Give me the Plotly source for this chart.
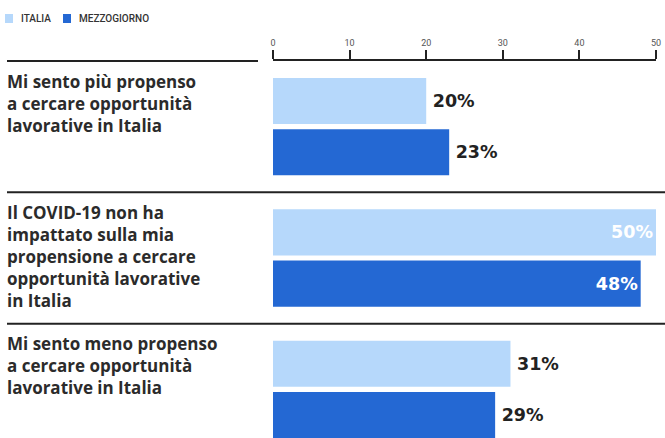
import plotly.graph_objects as go

categories = ["g1", "g2", "g3"]
labels = [
    "Mi sento più propenso<br>a cercare opportunità<br>lavorative in Italia",
    "Il COVID-19 non ha<br>impattato sulla mia<br>propensione a cercare<br>opportunità lavorative<br>in Italia",
    "Mi sento meno propenso<br>a cercare opportunità<br>lavorative in Italia",
]
italia = [20, 50, 31]
mezzogiorno = [23, 48, 29]
series_names = ["ITALIA", "MEZZOGIORNO"]
colors = ["#b6d8fb", "#2468d3"]
tick_vals = [0, 10, 20, 30, 40, 50]

LABEL_FONT = "Open Sans"
VALUE_FONT = "DejaVu Sans"

def positions(vals):
    return ["inside" if v >= 45 else "outside" for v in vals]

def tcolors(vals):
    return ["#ffffff" if v >= 45 else "#222222" for v in vals]

def texts(vals):
    return [f"{v}%" if v >= 45 else f"\u2009{v}%" for v in vals]

fig = go.Figure()
for name, vals, col in zip(series_names, [italia, mezzogiorno], colors):
    fig.add_trace(go.Bar(
        y=categories, x=vals, name=name, orientation="h",
        marker=dict(color=col, line=dict(width=0)),
        text=texts(vals),
        textposition=positions(vals),
        insidetextanchor="end",
        textfont=dict(family=VALUE_FONT, size=17.5, weight=700, color=tcolors(vals)),
        constraintext="none",
        cliponaxis=False,
        hoverinfo="skip",
        showlegend=False,
    ))

annotations = []
for c, lab in zip(categories, labels):
    annotations.append(dict(
        x=5 / 665, xref="paper", xanchor="left",
        y=c, yref="y", yanchor="top", yshift=59,
        text=lab, showarrow=False, align="left",
        font=dict(family=LABEL_FONT, size=17, weight=700, color="#2b2b2b"),
    ))

# manual legend (small squares + caps text)
shapes = []
leg_x = [5, 63]
for xpx, name, col in zip(leg_x, series_names, colors):
    shapes.append(dict(type="rect", xref="paper", yref="paper",
                       x0=xpx / 665, x1=(xpx + 8) / 665,
                       y0=1 + (61 - 23) / 377, y1=1 + (61 - 14) / 377,
                       fillcolor=col, line=dict(width=0)))
    annotations.append(dict(
        x=(xpx + 14) / 665, xref="paper", xanchor="left",
        y=1 + (61 - 18.5) / 377, yref="paper", yanchor="middle",
        text=name, showarrow=False,
        font=dict(family="Roboto", size=10, weight=500, color="#333333"),
    ))

shapes.append(dict(type="line", xref="paper", yref="paper", x0=7 / 665, x1=258 / 665, y0=1, y1=1,
                   line=dict(color="#222222", width=2)))
for yv in [0.5, 1.5]:
    shapes.append(dict(type="line", xref="paper", yref="y", x0=7 / 665, x1=1, y0=yv, y1=yv,
                       line=dict(color="#222222", width=2)))

fig.update_layout(
    width=665, height=438,
    margin=dict(l=0, r=0, t=61, b=0),
    paper_bgcolor="white", plot_bgcolor="white",
    barmode="group", bargap=0.22, bargroupgap=0.1,
    showlegend=False,
    xaxis=dict(side="top", range=[0, 50], domain=[273 / 665, 656 / 665], automargin=False,
               tickvals=tick_vals, ticks="outside", ticklen=9, tickcolor="#222222", tickwidth=1.5,
               showline=True, linecolor="#222222", linewidth=2,
               showgrid=False, zeroline=False,
               tickfont=dict(family="Roboto", size=9, color="#555555")),
    yaxis=dict(range=[2.37, -0.5], showticklabels=False, showgrid=False, zeroline=False,
               showline=False, ticks="", automargin=False),
    annotations=annotations,
    shapes=shapes,
)

fig.write_html("out.html")
